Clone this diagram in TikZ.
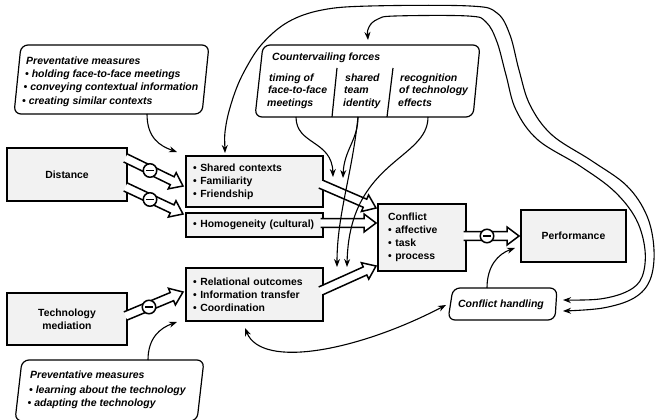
\documentclass[tikz,border=0pt]{standalone}
\usepackage{fontspec}
\setmainfont{Liberation Sans}
\usetikzlibrary{calc,arrows.meta}
\newcommand\hollow[2]{%
  \draw[hollowstyle] let \p1=(#1), \p2=(#2), \n1={atan2(\y2-\y1,\x2-\x1)} in
    ($(\p1)+({\n1+90}:4.4pt)$) --
    ($(\p2)+({\n1+180}:12pt)+({\n1+90}:4.4pt)$) --
    ($(\p2)+({\n1+180}:12pt)+({\n1+90}:9pt)$) --
    (\p2) --
    ($(\p2)+({\n1+180}:12pt)+({\n1-90}:9pt)$) --
    ($(\p2)+({\n1+180}:12pt)+({\n1-90}:4.4pt)$) --
    ($(\p1)+({\n1-90}:4.4pt)$);}
\begin{document}
\begin{tikzpicture}[x=1pt,y=-1pt,
  mainbox/.style={draw, line width=2.4pt, fill=black!5, inner sep=0pt,
    font=\fontsize{10.4}{13}\selectfont\bfseries},
  listbox/.style={mainbox, anchor=north west, align=left, inner xsep=7pt, text width=123pt, minimum width=137pt},
  softbox/.style={draw, line width=1.2pt, fill=white, rounded corners=7pt},
  itxt/.style={anchor=base west, inner sep=0pt, font=\fontsize{10.5}{13}\selectfont\bfseries\itshape},
  hollowstyle/.style={draw, line width=1.5pt, fill=white, line join=miter},
  minus/.style={circle, draw, line width=1.5pt, fill=white, minimum size=13.5pt, inner sep=0pt,
    path picture={\draw[line width=1.4pt] ($(path picture bounding box.center)+(-3.6pt,0pt)$) -- ($(path picture bounding box.center)+(3.6pt,0pt)$);}},
  thin/.style={line width=1.1pt, -{Stealth[length=8pt,width=6pt]}},
  thinboth/.style={line width=1.1pt, {Stealth[length=8pt,width=6pt]}-{Stealth[length=8pt,width=6pt]}}
]
\useasboundingbox (0,0) rectangle (657,420);

% ---------- soft (slanted) boxes ----------
\draw[softbox] (21,45) -- (209,45) -- (202,114) -- (14,114) -- cycle;
\node[itxt] (pm1t) at (26,64.5) {Preventative measures};
\node[itxt] (pm1a) at (25,78) {• holding face-to-face meetings};
\node[itxt] (pm1b) at (23.5,91) {• conveying contextual information};
\node[itxt] (pm1c) at (22,104.5) {• creating similar contexts};

\draw[softbox] (263,45) -- (480,45) -- (473,117) -- (255,117) -- cycle;
\draw[line width=1.2pt] (337,68) -- (332,117);
\draw[line width=1.2pt] (393,68) -- (387,117);
\node[itxt] (cft) at (272,61) {Countervailing forces};
\node[itxt] (cf1a) at (269,81.5) {timing of};
\node[itxt] (cf1b) at (268,94) {face-to-face};
\node[itxt] (cf1c) at (267,106.5) {meetings};
\node[itxt] (cf2a) at (345,81.5) {shared};
\node[itxt] (cf2b) at (344,94) {team};
\node[itxt] (cf2c) at (343,106.5) {identity};
\node[itxt] (cf3a) at (400,81.5) {recognition};
\node[itxt] (cf3b) at (399,94) {of technology};
\node[itxt] (cf3c) at (398,106.5) {effects};

\draw[softbox] (22,360) -- (204,360) -- (197,421) -- (15,421) -- cycle;
\node[itxt] (pm2t) at (30,378.5) {Preventative measures};
\node[itxt] (pm2a) at (29,393) {• learning about the technology};
\node[itxt] (pm2b) at (27.5,406.5) {• adapting the technology};

\draw[softbox] (453,288) -- (557,288) -- (555,320) -- (448,320) -- cycle;
\node[itxt, anchor=base] (chd) at (501,307.5) {Conflict handling};

% ---------- main boxes ----------
\node[mainbox, minimum width=120pt, minimum height=53pt] (dist) at (67,174.5) {Distance};
\node[mainbox, minimum width=120pt, minimum height=52pt, align=center] (tech) at (67,319) {Technology\\mediation};
\node[listbox, minimum height=51pt] (sc) at (185,155) {• Shared contexts\\• Familiarity\\• Friendship};
\node[listbox, minimum height=24pt] (hom) at (185,212) {• Homogeneity (cultural)};
\node[listbox, minimum height=53pt] (rel) at (185,267) {• Relational outcomes\\• Information transfer\\• Coordination};
\node[mainbox, anchor=north west, align=left, inner xsep=10pt, text width=68pt, minimum width=88pt, minimum height=67pt] (conf) at (377,203) {Conflict\\• affective\\• task\\• process};
\node[mainbox, minimum width=105pt, minimum height=52pt] (perf) at (573.5,236) {Performance};

% ---------- hollow arrows ----------
\coordinate (d1s) at (125.5,158); \coordinate (d1e) at (183,186);
\coordinate (d2s) at (125.5,187); \coordinate (d2e) at (183,214);
\coordinate (t1s) at (125.5,316); \coordinate (t1e) at (183,292);
\coordinate (s1s) at (320.5,184); \coordinate (s1e) at (376,208);
\coordinate (h1s) at (320.5,223); \coordinate (h1e) at (376,223);
\coordinate (r1s) at (320.5,291); \coordinate (r1e) at (376,266);
\coordinate (c1s) at (463.5,236); \coordinate (c1e) at (519,236);
\hollow{d1s}{d1e}
\hollow{d2s}{d2e}
\hollow{t1s}{t1e}
\hollow{s1s}{s1e}
\hollow{h1s}{h1e}
\hollow{r1s}{r1e}
\hollow{c1s}{c1e}
\node[minus] (m1) at (150,170.5) {};
\node[minus] (m2) at (150,199.5) {};
\node[minus] (m3) at (149,307) {};
\node[minus] (m4) at (487,236) {};

% ---------- thin arrows ----------
\coordinate (pm1o) at (147,114);
\coordinate (pm1e) at (177,152);
\draw[thin] (pm1o) .. controls (147,138) and (160,146) .. (pm1e);

\coordinate (pm2o) at (148,360);
\coordinate (pm2e) at (177,322);
\draw[thin] (pm2o) .. controls (148,338) and (160,328) .. (pm2e);

\coordinate (cf1o) at (296,117);
\coordinate (cf2o) at (358,117);
\coordinate (cf3o) at (428,117);
\coordinate (ma1) at (333,177);
\coordinate (ma2) at (343,178);
\coordinate (mb1) at (337,267);
\coordinate (mb2) at (347,267);
\draw[thin] (cf1o) .. controls (296,145) and (332,140) .. (ma1);
\draw[thin] (cf2o) .. controls (358,140) and (344,150) .. (ma2);
\draw[thin] (cf2o) .. controls (352,175) and (337,215) .. (mb1);
\draw[thin] (cf3o) .. controls (428,160) and (349,160) .. (mb2);

\coordinate (chs) at (487,288);
\coordinate (pfe) at (515,248);
\draw[thin] (chs) .. controls (487,266) and (498,254) .. (pfe);

\coordinate (rlb) at (245,328);
\coordinate (chl) at (446,305);
\draw[thinboth] (rlb) .. controls (262,370) and (360,350) .. (chl);

\draw[thinboth] plot[smooth, tension=0.6] coordinates {(225,153) (226,125) (234,95) (245,70) (262,44) (288,22) (322,10) (370,6) (470,6) (497,13) (510,35) (519,70) (530,105) (552,135) (592,161) (627,186) (647,216) (654,250) (650,280) (634,298) (603,308) (563,311)};
\draw[thinboth] plot[smooth, tension=0.6] coordinates {(368,40) (369,27) (378,19) (395,16) (468,16) (486,22) (497,42) (506,75) (516,110) (538,140) (580,166) (614,191) (636,219) (645,250) (642,277) (628,291) (600,299) (563,300)};
\end{tikzpicture}
\end{document}
